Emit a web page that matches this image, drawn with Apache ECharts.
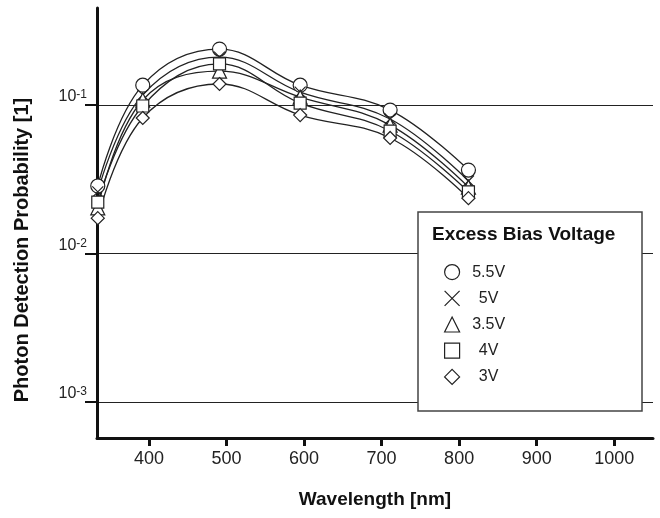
<!DOCTYPE html>
<html>
<head>
<meta charset="utf-8">
<script src="https://cdn.jsdelivr.net/npm/echarts@6/dist/echarts.min.js"></script>
<style>
  html, body {margin: 0; padding: 0; background: #fff;}
  #chart {width: 660px; height: 518px;}
</style>
</head>
<body>
<div id="chart"></div>
<script>
// wavelengths [nm]
const wavelengths = [334, 392, 491, 595, 711, 812];

// photon detection probability for each excess bias voltage
const pde55 = [0.0285, 0.136, 0.238, 0.136, 0.0925, 0.0365];
const pde50 = [0.0260, 0.117, 0.210, 0.122, 0.0805, 0.0308];
const pde40 = [0.0222, 0.0985, 0.189, 0.103, 0.0668, 0.0260];
const pde35 = [0.0203, 0.108, 0.169, 0.113, 0.0733, 0.0280];
const pde30 = [0.0173, 0.0818, 0.1385, 0.0856, 0.0600, 0.0236];

const xTicks = [400, 500, 600, 700, 800, 900, 1000];
const yTicks = [0.001, 0.01, 0.1];

const FONT = '"Liberation Sans", Arial, Helvetica, sans-serif';
const crossPath = 'path://M0,0L10,10M10,0L0,10';

const seriesDefs = [
  {name: '5.5V', data: pde55, symbol: 'circle', size: 14},
  {name: '5V', data: pde50, symbol: crossPath, size: 11},
  {name: '3.5V', data: pde35, symbol: 'triangle', size: 14},
  {name: '4V', data: pde40, symbol: 'rect', size: 12},
  {name: '3V', data: pde30, symbol: 'diamond', size: 13}
];

const myChart = echarts.init(document.getElementById('chart'));

myChart.setOption({
  animation: false,
  backgroundColor: '#fff',
  textStyle: {fontFamily: FONT},
  grid: {left: 97, right: 7, top: 8, bottom: 80, containLabel: false},
  xAxis: {
    type: 'value',
    min: 333,
    max: 1050,
    name: 'Wavelength [nm]',
    nameLocation: 'middle',
    nameGap: 52,
    nameTextStyle: {fontSize: 19, fontWeight: 'bold', color: '#111', fontFamily: FONT},
    axisLine: {show: true, lineStyle: {color: '#111', width: 3}},
    axisTick: {show: true, length: 8, customValues: xTicks, lineStyle: {color: '#111', width: 3}},
    axisLabel: {
      customValues: xTicks, fontSize: 18, color: '#222', margin: 12, fontFamily: FONT,
      formatter: function (v) { return String(v); }
    },
    splitLine: {show: false}
  },
  yAxis: {
    type: 'log',
    logBase: 10,
    min: 0.000573,
    max: 0.45,
    axisLine: {show: true, lineStyle: {color: '#111', width: 3}},
    axisTick: {show: true, length: 12, customValues: yTicks, lineStyle: {color: '#111', width: 2}},
    axisLabel: {
      customValues: yTicks,
      margin: 10,
      verticalAlign: 'bottom',
      formatter: function (v) {
        const e = Math.round(Math.log10(v));
        return '{b|10}{s|' + e + '}';
      },
      rich: {
        b: {fontSize: 16, color: '#222', fontFamily: FONT, verticalAlign: 'bottom'},
        s: {fontSize: 12, color: '#222', fontFamily: FONT, verticalAlign: 'top'}
      }
    },
    splitLine: {show: true, lineStyle: {color: '#222', width: 1}}
  },
  legend: {
    orient: 'vertical',
    left: 439,
    top: 259,
    z: 20,
    itemWidth: 15,
    itemHeight: 15,
    itemGap: 10,
    selectedMode: false,
    data: seriesDefs.map(function (d) {
      return {
        name: d.name,
        icon: d.symbol,
        itemStyle: {color: '#fff', borderColor: '#222', borderWidth: 1.2}
      };
    }),
    formatter: function (name) { return '{t|' + name + '}'; },
    textStyle: {
      rich: {t: {fontSize: 16, color: '#222', width: 48, align: 'center', fontFamily: FONT}}
    }
  },
  graphic: [
    {
      type: 'rect', z: 10,
      shape: {x: 418, y: 212, width: 224, height: 199},
      style: {fill: '#fff', stroke: '#444', lineWidth: 1.5}
    },
    {
      type: 'text', z: 11, x: 432, y: 235,
      style: {text: 'Excess Bias Voltage', fontSize: 19, fontWeight: 'bold', fill: '#111',
        fontFamily: FONT, verticalAlign: 'middle'}
    },
    {
      type: 'text', z: 11, x: 22, y: 250, rotation: Math.PI / 2,
      style: {text: 'Photon Detection Probability [1]', fontSize: 20, fontWeight: 'bold', fill: '#111',
        fontFamily: FONT, align: 'center', verticalAlign: 'middle'}
    }
  ],
  series: seriesDefs.map(function (d) {
    return {
      name: d.name,
      type: 'line',
      smooth: 0.4,
      symbol: d.symbol,
      symbolSize: d.size,
      data: wavelengths.map(function (w, i) { return [w, d.data[i]]; }),
      lineStyle: {color: '#222', width: 1.3},
      itemStyle: {color: '#fff', borderColor: '#222', borderWidth: 1.2}
    };
  })
});
</script>
</body>
</html>
